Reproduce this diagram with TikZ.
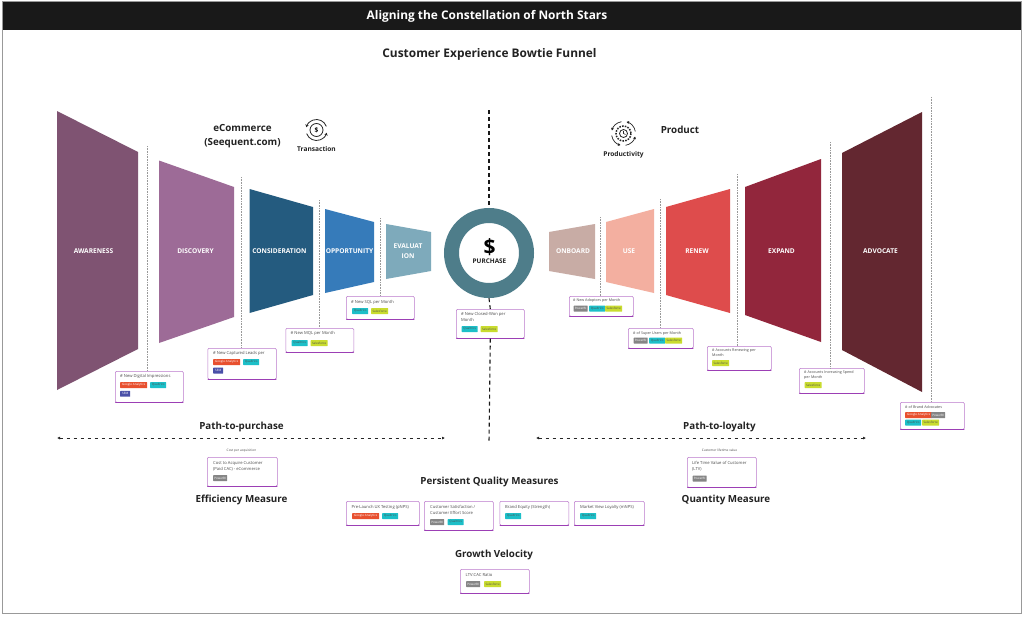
\documentclass[tikz,border=0pt]{standalone}
\usepackage{fontspec}
\setmainfont{Open Sans}
\usetikzlibrary{arrows.meta}
\definecolor{cardpurple}{HTML}{9C3FB5}
\definecolor{taggoogle}{HTML}{E8502F}
\definecolor{tagqual}{HTML}{1CBFC8}
\definecolor{tagsales}{HTML}{C9DC2F}
\definecolor{tagpower}{HTML}{858585}
\definecolor{tagsem}{HTML}{4A50A8}
\definecolor{inktext}{HTML}{222222}
\definecolor{awarecol}{HTML}{7F5372}
\definecolor{discocol}{HTML}{9D6B97}
\definecolor{considcol}{HTML}{245B7F}
\definecolor{opporcol}{HTML}{367BBA}
\definecolor{evalcol}{HTML}{7EAABB}
\definecolor{ringcol}{HTML}{4E7D8A}
\definecolor{onbocol}{HTML}{C8ACA5}
\definecolor{usecol}{HTML}{F3AFA0}
\definecolor{renewcol}{HTML}{DE4C4C}
\definecolor{expancol}{HTML}{92263C}
\definecolor{advocol}{HTML}{632730}
\tikzset{
    stagetext/.style={text=white, font=\bfseries\fontsize{6.6}{9.7}\selectfont, align=center, inner sep=0pt},
    heading/.style={text=inktext, font=\bfseries\fontsize{9.8}{14}\selectfont, align=center, inner sep=0pt},
    smallhead/.style={text=inktext, font=\bfseries\fontsize{6.6}{8}\selectfont, inner sep=0pt},
    card/.style={draw=cardpurple!70, line width=0.6pt, fill=white, rounded corners=1.2pt, inner sep=0pt},
    cardtext/.style={anchor=north west, text=black!70, font=\fontsize{4.15}{6}\selectfont, align=left, inner sep=0pt},
    smalltext/.style={cardtext, font=\fontsize{3.7}{5.4}\selectfont},
    tag/.style={anchor=north west, inner sep=0pt, minimum height=5.8pt, rounded corners=0.4pt, font=\fontsize{3}{3}\selectfont},
    google/.style={tag, fill=taggoogle, text=white, minimum width=27pt},
    qual/.style={tag, fill=tagqual, text=black!70, minimum width=16pt},
    sales/.style={tag, fill=tagsales, text=black!70, minimum width=17pt},
    power/.style={tag, fill=tagpower, text=white, minimum width=14pt},
    sem/.style={tag, fill=tagsem, text=white, minimum width=10pt},
    tick/.style={draw=black!40, line width=0.6pt, dash pattern=on 0.8pt off 0.8pt},
    centerline/.style={draw=black!90, line width=1.1pt, dash pattern=on 4pt off 3pt},
    pathline/.style={draw=black!85, line width=0.9pt, dash pattern=on 3.6pt off 3.4pt, {Latex[length=3pt,width=3pt]}-{Latex[length=3pt,width=3pt]}},
    iconline/.style={draw=black!85, line width=0.8pt},
    hintlabel/.style={text=black!70, font=\fontsize{3.2}{4}\selectfont, inner sep=0pt}
}
% card: name, x0, y0, x1, y1
\newcommand{\metriccard}[5]{
    \node[card, minimum width=#4pt-#2pt, minimum height=#5pt-#3pt, anchor=north west] (#1) at (#2,#3) {};
    \draw[cardpurple, line width=1.3pt, line cap=round] ([xshift=0.7pt]#1.south west) -- ([xshift=-0.7pt]#1.south east);
}
\begin{document}
\begin{tikzpicture}[x=1pt, y=-1pt]
    \useasboundingbox (0,0) rectangle (1024,616);
    \fill[white] (0,0) rectangle (1024,616);
    % frame and title
    \draw[black!40, line width=0.9pt] (2.5,1.5) rectangle (1021,613.7);
    \fill[black!90] (2.5,2) rectangle (1021,30);
    \node[text=white, font=\bfseries\fontsize{11.9}{14}\selectfont, inner sep=0pt] (title) at (487,16.5) {Aligning the Constellation of North Stars};
    \node[heading, font=\bfseries\fontsize{11.9}{14}\selectfont] (subtitle) at (489.5,54) {Customer Experience Bowtie Funnel};

    % center line
    \coordinate (midtop) at (489,110);
    \coordinate (midlow) at (489,442);
    \node[circle, minimum size=90pt, inner sep=0pt] (ring) at (489,253) {};
    \draw[centerline] (midtop) -- (ring.north);

    % funnel stages
    \fill[awarecol] (57,111) -- (138,152) -- (138,349) -- (57,390) -- cycle;
    \fill[discocol] (159,160.5) -- (234,187) -- (234,317) -- (159,343) -- cycle;
    \fill[considcol] (249.5,189) -- (313,207) -- (313,295) -- (249.5,313) -- cycle;
    \fill[opporcol] (325,209) -- (374,222) -- (374,282) -- (325,293) -- cycle;
    \fill[evalcol] (386,224) -- (431,232) -- (431,271) -- (386,279) -- cycle;
    \fill[onbocol] (549,232) -- (595,224) -- (595,279) -- (549,271) -- cycle;
    \fill[usecol] (606,222) -- (654,209) -- (654,293) -- (606,282) -- cycle;
    \fill[renewcol] (666,207) -- (730,189) -- (730,313) -- (666,295) -- cycle;
    \fill[expancol] (745,187) -- (821,159) -- (821,342) -- (745,315) -- cycle;
    \fill[advocol] (842,153) -- (922,112) -- (922,392) -- (842,350) -- cycle;

    \node[stagetext] (awareness) at (93.5,251) {AWARENESS};
    \node[stagetext] (discovery) at (195.5,251) {DISCOVERY};
    \node[stagetext] (consideration) at (279.5,251) {CONSIDERATION};
    \node[stagetext] (opportunity) at (349.5,251) {OPPORTUNITY};
    \node[stagetext] (evaluation) at (408,251) {EVALUAT\\ION};
    \node[stagetext] (onboard) at (573,251) {ONBOARD};
    \node[stagetext] (use) at (629,251) {USE};
    \node[stagetext] (renew) at (697,251) {RENEW};
    \node[stagetext] (expand) at (781.5,251) {EXPAND};
    \node[stagetext] (advocate) at (880.5,251) {ADVOCATE};

    % purchase ring
    \draw[ringcol, line width=15pt] (ring.center) circle (37.5);
    \node[text=black, font=\bfseries\fontsize{21}{24}\selectfont, inner sep=0pt] (dollar) at (489.5,247) {\$};
    \node[text=inktext, font=\bfseries\fontsize{6.4}{8}\selectfont, inner sep=0pt] (purchase) at (489.5,261.5) {PURCHASE};

    % dotted ticks, top ends
    \coordinate (ticka) at (147.5,146);
    \coordinate (tickb) at (241.5,177);
    \coordinate (tickc) at (319,200);
    \coordinate (tickd) at (380,218);
    \coordinate (ticke) at (600,217);
    \coordinate (tickf) at (660,199);
    \coordinate (tickg) at (737.5,174);
    \coordinate (tickh) at (830,142);
    \coordinate (ticki) at (931.5,97);

    % metric cards
    \metriccard{digital}{115}{371}{183}{402}
    \metriccard{captured}{207.5}{348}{276}{379}
    \metriccard{mql}{285.5}{328}{353.5}{352}
    \metriccard{sql}{346}{296}{414}{319}
    \metriccard{closedwon}{456}{309}{524}{338}
    \metriccard{adoptions}{569}{296}{633}{316}
    \metriccard{superusers}{628}{328}{693}{348}
    \metriccard{renewing}{707}{346}{771}{370}
    \metriccard{increasing}{799}{368}{864}{393}
    \metriccard{advocates}{900}{402}{964}{429}
    \metriccard{cac}{207}{457}{277}{486}
    \metriccard{ltv}{687}{457}{756}{487}
    \metriccard{prelaunch}{346}{501}{419}{525}
    \metriccard{csat}{424}{501}{493}{530}
    \metriccard{equity}{499.5}{501}{568.5}{525}
    \metriccard{market}{574}{501}{644}{525}
    \metriccard{ratio}{460}{569}{529}{593}

    \draw[tick] (ticka) -- (ticka |- digital.north);
    \draw[tick] (tickb) -- (tickb |- captured.north);
    \draw[tick] (tickc) -- (tickc |- mql.north);
    \draw[tick] (tickd) -- (tickd |- sql.north);
    \draw[tick] (ticke) -- (ticke |- adoptions.north);
    \draw[tick] (tickf) -- (tickf |- superusers.north);
    \draw[tick] (tickg) -- (tickg |- renewing.north);
    \draw[tick] (tickh) -- (tickh |- increasing.north);
    \draw[tick] (ticki) -- (ticki |- advocates.north);

    % card texts and tags
    \node[cardtext] (t1) at (120,374.5) {\# New Digital Impressions};
    \node[google] (g1) at (120,382) {Google Analytics};
    \node[qual] (q1) at (150,382) {Qualtrics};
    \node[sem] (s1) at (120,390.7) {SEM};

    \node[cardtext] (t2) at (213,351.5) {\# New Captured Leads per};
    \node[google] (g2) at (213,359) {Google Analytics};
    \node[qual] (q2) at (243,359) {Qualtrics};
    \node[sem] (s2) at (213,367.5) {SEM};

    \node[cardtext] (t3) at (290.5,331.5) {\# New MQL per Month};
    \node[qual] (q3) at (291.5,340) {Qualtrics};
    \node[sales] (x3) at (310.5,340) {Salesforce};

    \node[cardtext] (t4) at (351,300) {\# New SQL per Month};
    \node[qual] (q4) at (352,308) {Qualtrics};
    \node[sales] (x4) at (371,308) {Salesforce};

    \node[cardtext] (t5) at (461,312) {\# New Closed-Won per\\Month};
    \node[qual] (q5) at (461.5,326) {Qualtrics};
    \node[sales] (x5) at (480.5,326) {Salesforce};

    \node[smalltext] (t6) at (573,298.5) {\# New Adoptors per Month};
    \node[power] (p6) at (573.5,305.5) {PowerBI};
    \node[qual] (q6) at (589,305.5) {Qualtrics};
    \node[sales] (x6) at (605,305.5) {Salesforce};

    \node[smalltext] (t7) at (633,331) {\# of Super Users per Month};
    \node[power] (p7) at (633.5,337.5) {PowerBI};
    \node[qual] (q7) at (649,337.5) {Qualtrics};
    \node[sales] (x7) at (665,337.5) {Salesforce};

    \node[smalltext] (t8) at (712,348.5) {\# Accounts Renewing per\\Month};
    \node[sales] (x8) at (712,360) {Salesforce};

    \node[smalltext] (t9) at (804,370.5) {\# Accounts Increasing Spend\\per Month};
    \node[sales] (x9) at (804.5,382) {Salesforce};

    \node[smalltext] (t10) at (905,405) {\# of Brand Advocates};
    \node[google] (g10) at (905,412) {Google Analytics};
    \node[power] (p10) at (931,412) {PowerBI};
    \node[qual] (q10) at (905,419.5) {Qualtrics};
    \node[sales] (x10) at (922,419.5) {Salesforce};

    \node[cardtext] (t11) at (213,461) {Cost to Acquire Customer\\(Paid CAC) - eCommerce};
    \node[power] (p11) at (213,475) {PowerBI};

    \node[cardtext] (t12) at (692,461) {Life Time Value of Customer\\(LTV)};
    \node[power] (p12) at (692.5,475.5) {PowerBI};

    \node[cardtext] (t13) at (351.5,505) {Pre-Launch UX Testing (pNPS)};
    \node[google] (g13) at (352,513) {Google Analytics};
    \node[qual] (q13) at (382,513) {Qualtrics};

    \node[cardtext] (t14) at (430,505) {Customer Satisfaction /\\Customer Effort Score};
    \node[power] (p14) at (430,519) {PowerBI};
    \node[qual] (q14) at (447.5,519) {Qualtrics};

    \node[cardtext] (t15) at (505,505) {Brand Equity (Strength)};
    \node[qual] (q15) at (505,513) {Qualtrics};

    \node[cardtext] (t16) at (580,505) {Market View Loyalty (mNPS)};
    \node[qual] (q16) at (580,513) {Qualtrics};

    \node[cardtext] (t17) at (465.5,573) {LTV:CAC Ratio};
    \node[power] (p17) at (466,581) {PowerBI};
    \node[sales] (x17) at (484,581) {Salesforce};

    % section headings
    \node[heading] (ecommerce) at (242.5,136.5) {eCommerce\\(Seequent.com)};
    \node[heading] (product) at (680,129.5) {Product};
    \node[smallhead] (transaction) at (316.5,149) {Transaction};
    \node[smallhead] (productivity) at (623.5,155) {Productivity};
    \node[heading] (pathbuy) at (241.5,427) {Path-to-purchase};
    \node[heading] (pathkeep) at (719.5,427) {Path-to-loyalty};
    \node[heading] (efficiency) at (241.5,499.5) {Efficiency Measure};
    \node[heading] (quantity) at (726,499.5) {Quantity Measure};
    \node[heading] (quality) at (489.5,481.5) {Persistent Quality Measures};
    \node[heading] (velocity) at (494,555) {Growth Velocity};
    \node[hintlabel] (cpa) at (241.5,450.5) {Cost per acquisition};
    \node[hintlabel] (clv) at (719.5,450.5) {Customer lifetime value};

    % path arrows and lower center line
    \coordinate (buyl) at (57,438);
    \coordinate (buyr) at (445,438);
    \coordinate (keepl) at (536,438);
    \coordinate (keepr) at (866,438);
    \draw[pathline] (buyl) -- (buyr);
    \draw[pathline] (keepl) -- (keepr);
    \draw[centerline] (closedwon.south) -- (midlow);
    \draw[centerline] (ring.south) -- (closedwon.north);

    % icons
    \node[circle, iconline, draw, minimum size=13pt, inner sep=0pt, font=\bfseries\fontsize{6.5}{6.5}\selectfont] (iconbuy) at (316.5,130) {\$};
    \foreach \ang in {0,180} {
        \draw[iconline, -{Stealth[length=2.8pt,width=3.4pt]}] (iconbuy.center) ++(\ang+160:-10.5) arc (\ang+340:\ang+195:10.5);
    }
    \node[circle, iconline, draw, minimum size=8pt, inner sep=0pt] (iconkeep) at (623.5,133.5) {};
    \draw[iconline, line width=0.6pt] (iconkeep.center) ++(0,-2.5) -- (iconkeep.center) -- ++(2,1);
    \draw[iconline, line width=1.5pt, dash pattern=on 1.6pt off 1.2pt] (iconkeep.center) circle (7.5);
    \foreach \ang in {0,90,180,270} {
        \draw[iconline, line width=0.7pt, -{Stealth[length=2.5pt,width=3pt]}] (iconkeep.center) ++(\ang+80:12) arc (\ang+80:\ang+15:12);
    }
\end{tikzpicture}
\end{document}
